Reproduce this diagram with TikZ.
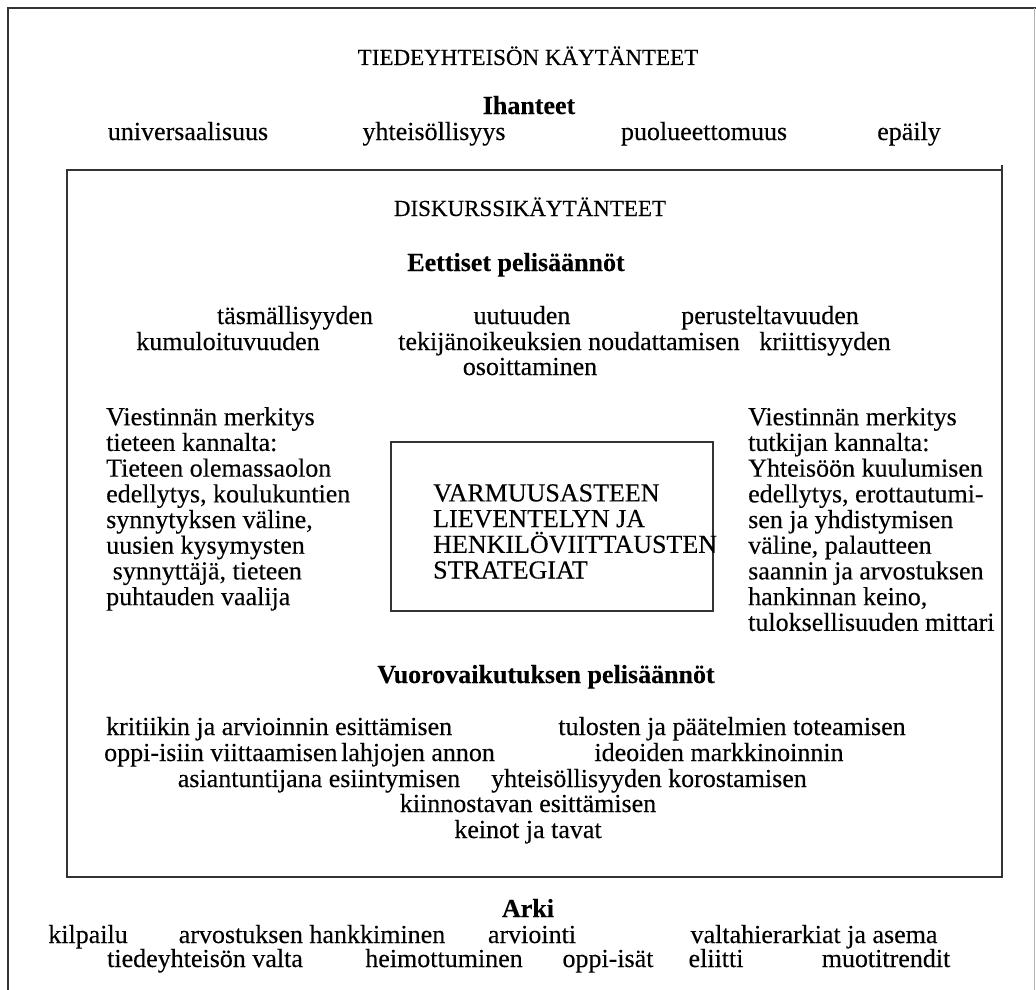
\documentclass[tikz,border=0pt]{standalone}
\usepackage{fontspec}
\setmainfont{Liberation Serif}[FakeBold=0.25]
\begin{document}
\begin{tikzpicture}[x=1pt,y=-1pt,
  txt/.style={anchor=base,inner sep=0pt,font=\fontsize{26}{25.7}\selectfont},
  txtw/.style={txt,anchor=base west},
  head/.style={txt,font=\fontsize{26}{25.7}\selectfont\bfseries},
  caps/.style={txt,font=\fontsize{23}{25.7}\selectfont},
  block/.style={anchor=north west,inner sep=0pt,align=left,font=\fontsize{26}{25.7}\selectfont},
  frame/.style={draw=black!80,line width=1.6pt},
  box/.style={draw=black!80,line width=1.8pt}]
\useasboundingbox (0,0) rectangle (1036,990);
\fill[white] (0,0) rectangle (1036,990);
% outer frame
\draw[frame] (8,990) -- (8,8) -- (1036,8);
\draw[draw=black!30,line width=0.8pt] (1034,8) -- (1034,990);
% inner box
\draw[box] (67,170) rectangle (1002,877);
\draw[box] (1002,170) -- (1002,165);
% top part
\node[caps] (title) at (528,65) {TIEDEYHTEISÖN KÄYTÄNTEET};
\node[head] (ihanteet) at (529,114) {Ihanteet};
\node[txt] (i1) at (188,140) {universaalisuus};
\node[txt] (i2) at (434,140) {yhteisöllisyys};
\node[txt] (i3) at (704,140) {puolueettomuus};
\node[txt] (i4) at (909,140) {epäily};
% discourse
\node[caps] (disk) at (530,216) {DISKURSSIKÄYTÄNTEET};
\node[head] (eett) at (516,271) {Eettiset pelisäännöt};
\node[txt] (e1) at (295,324) {täsmällisyyden};
\node[txt] (e2) at (522,324) {uutuuden};
\node[txt] (e3) at (770,324) {perusteltavuuden};
\node[txt] (e4) at (228,350) {kumuloituvuuden};
\node[txt] (e5) at (569,350) {tekijänoikeuksien noudattamisen};
\node[txt] (e6) at (825,350) {kriittisyyden};
\node[txt] (e7) at (530,375) {osoittaminen};
\node[block] (left) at (106,407) {Viestinnän merkitys\\tieteen kannalta:\\Tieteen olemassaolon\\edellytys, koulukuntien\\synnytyksen väline,\\uusien kysymysten\\\ synnyttäjä, tieteen\\puhtauden vaalija};
\node[block] (right) at (748,407) {Viestinnän merkitys\\tutkijan kannalta:\\Yhteisöön kuulumisen\\edellytys, erottautumi-\\sen ja yhdistymisen\\väline, palautteen\\saannin ja arvostuksen\\hankinnan keino,\\tuloksellisuuden mittari};
\draw[box,line width=1.6pt] (391,442) rectangle (713,611);
\node[block] (strat) at (433,484) {VARMUUSASTEEN\\LIEVENTELYN JA\\HENKILÖVIITTAUSTEN\\STRATEGIAT};
\node[head] (vuoro) at (546,683) {Vuorovaikutuksen pelisäännöt};
\node[txtw] (v1) at (106,735) {kritiikin ja arvioinnin esittämisen};
\node[txt] (v2) at (732,735) {tulosten ja päätelmien toteamisen};
\node[txtw] (v3) at (104,761) {oppi-isiin viittaamisen};
\node[txt] (v4) at (418,761) {lahjojen annon};
\node[txt] (v5) at (719,761) {ideoiden markkinoinnin};
\node[txt] (v6) at (319,787) {asiantuntijana esiintymisen};
\node[txt] (v7) at (649,787) {yhteisöllisyyden korostamisen};
\node[txt] (v8) at (528,812) {kiinnostavan esittämisen};
\node[txt] (v9) at (528,838) {keinot ja tavat};
% arki
\node[head] (arki) at (528,917) {Arki};
\node[txt] (a1) at (88,943) {kilpailu};
\node[txt] (a2) at (312,943) {arvostuksen hankkiminen};
\node[txt] (a3) at (532,943) {arviointi};
\node[txt] (a4) at (814,943) {valtahierarkiat ja asema};
\node[txt] (a5) at (205,967) {tiedeyhteisön valta};
\node[txt] (a6) at (444,967) {heimottuminen};
\node[txt] (a7) at (608,967) {oppi-isät};
\node[txt] (a8) at (716,967) {eliitti};
\node[txt] (a9) at (886,967) {muotitrendit};
\end{tikzpicture}
\end{document}
